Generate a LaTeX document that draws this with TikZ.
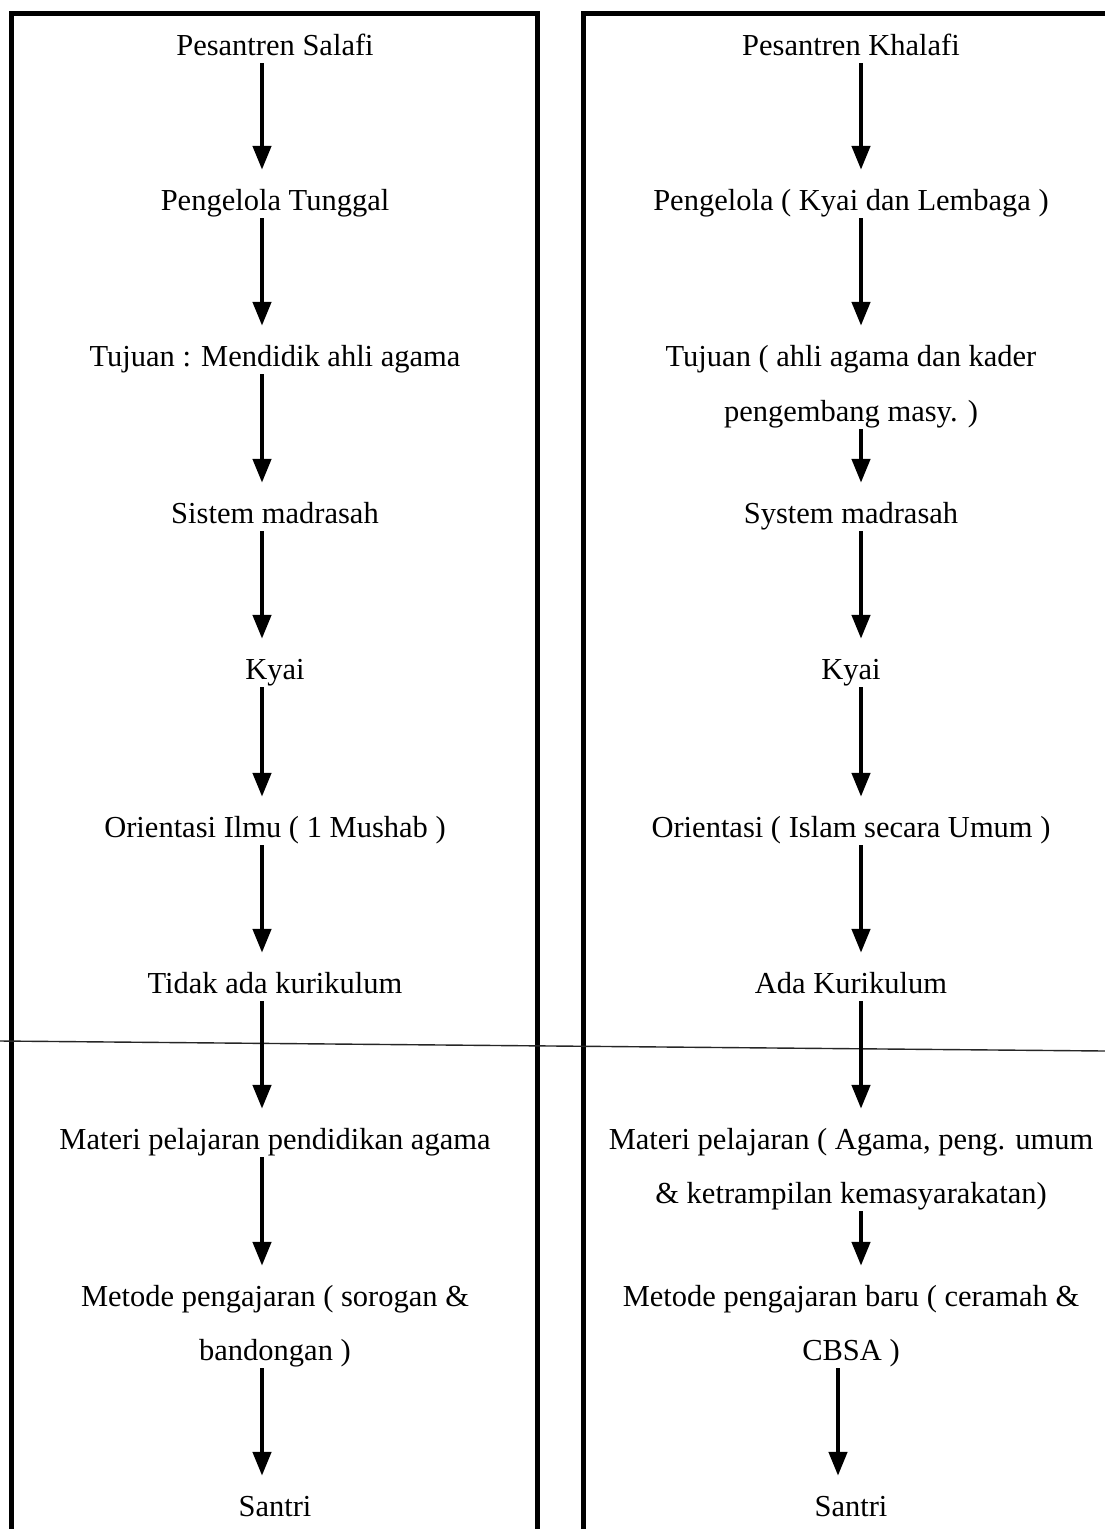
\documentclass[tikz,border=0pt]{standalone}
\usepackage{fontspec}
\setmainfont{Liberation Serif}
\usetikzlibrary{arrows.meta}
\begin{document}
\begin{tikzpicture}[x=1pt,y=-1pt,
  lbl/.style={anchor=base,inner sep=0pt,text height=21pt,text depth=7pt,
    font=\fontsize{30.5}{36}\selectfont},
  flow/.style={line width=4.5pt,-{Triangle[width=18pt,length=24pt]},
    shorten <=1pt,shorten >=19pt},
  frame/.style={line width=5pt,line join=miter},
  rule/.style={line width=1.4pt,black!85}]
\clip (0,0) rectangle (1105,1529);
\fill[white] (0,0) rectangle (1105,1529);

% column frames
\draw[frame] (11,1545) -- (11,13) -- (537,13) -- (537,1545);
\draw[frame] (583,1545) -- (583,13) -- (1120,13);

% thin rule across the page
\draw[rule] (0,1041) -- (1105,1051);

% arrow axes
\coordinate (axL) at (262,0);
\coordinate (axR) at (861,0);
\coordinate (axRb) at (838,0);

% left column: Pesantren Salafi
\node[lbl] (l1)  at (275,55)   {Pesantren Salafi};
\node[lbl] (l2)  at (275,210)  {Pengelola Tunggal};
\node[lbl] (l3)  at (275,366)  {Tujuan : Mendidik ahli agama};
\node[lbl] (l4)  at (275,523)  {Sistem madrasah};
\node[lbl] (l5)  at (275,679)  {Kyai};
\node[lbl] (l6)  at (275,837)  {Orientasi Ilmu ( 1 Mushab )};
\node[lbl] (l7)  at (275,993)  {Tidak ada kurikulum};
\node[lbl] (l8)  at (275,1149) {Materi pelajaran pendidikan agama};
\node[lbl] (l9a) at (275,1306) {Metode pengajaran ( sorogan \&};
\node[lbl] (l9b) at (275,1360) {bandongan )};
\node[lbl] (l10) at (275,1516) {Santri};

\draw[flow] (l1.south -| axL)  -- (l2.north -| axL);
\draw[flow] (l2.south -| axL)  -- (l3.north -| axL);
\draw[flow] (l3.south -| axL)  -- (l4.north -| axL);
\draw[flow] (l4.south -| axL)  -- (l5.north -| axL);
\draw[flow] (l5.south -| axL)  -- (l6.north -| axL);
\draw[flow] (l6.south -| axL)  -- (l7.north -| axL);
\draw[flow] (l7.south -| axL)  -- (l8.north -| axL);
\draw[flow] (l8.south -| axL)  -- (l9a.north -| axL);
\draw[flow] (l9b.south -| axL) -- (l10.north -| axL);

% right column: Pesantren Khalafi
\node[lbl] (r1)  at (851,55)   {Pesantren Khalafi};
\node[lbl] (r2)  at (851,210)  {Pengelola ( Kyai dan Lembaga )};
\node[lbl] (r3a) at (851,366)  {Tujuan ( ahli agama dan kader};
\node[lbl] (r3b) at (851,421)  {pengembang masy. )};
\node[lbl] (r4)  at (851,523)  {System madrasah};
\node[lbl] (r5)  at (851,679)  {Kyai};
\node[lbl] (r6)  at (851,837)  {Orientasi ( Islam secara Umum )};
\node[lbl] (r7)  at (851,993)  {Ada Kurikulum};
\node[lbl] (r8a) at (851,1149) {Materi pelajaran ( Agama, peng. umum};
\node[lbl] (r8b) at (851,1203) {\& ketrampilan kemasyarakatan)};
\node[lbl] (r9a) at (851,1306) {Metode pengajaran baru ( ceramah \&};
\node[lbl] (r9b) at (851,1360) {CBSA )};
\node[lbl] (r10) at (851,1516) {Santri};

\draw[flow] (r1.south -| axR)  -- (r2.north -| axR);
\draw[flow] (r2.south -| axR)  -- (r3a.north -| axR);
\draw[flow] (r3b.south -| axR) -- (r4.north -| axR);
\draw[flow] (r4.south -| axR)  -- (r5.north -| axR);
\draw[flow] (r5.south -| axR)  -- (r6.north -| axR);
\draw[flow] (r6.south -| axR)  -- (r7.north -| axR);
\draw[flow] (r7.south -| axR)  -- (r8a.north -| axR);
\draw[flow] (r8b.south -| axR) -- (r9a.north -| axR);
\draw[flow] (r9b.south -| axRb) -- (r10.north -| axRb);
\end{tikzpicture}
\end{document}
